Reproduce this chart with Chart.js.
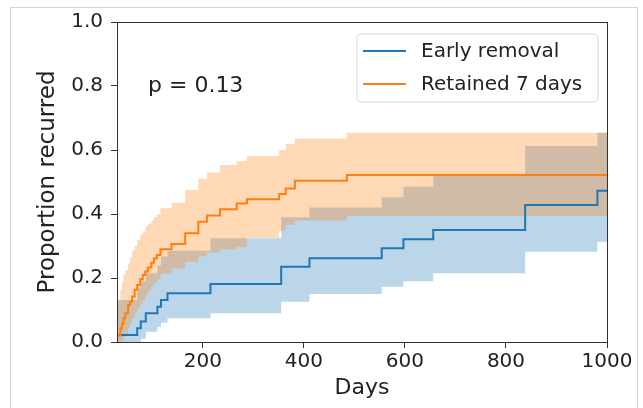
<!DOCTYPE html>
<html>
<head>
<meta charset="utf-8">
<script src="https://cdn.jsdelivr.net/npm/chart.js@4.4.1/dist/chart.umd.min.js"></script>
<style>
  html, body { margin: 0; padding: 0; background: #fff; }
  #wrap { position: relative; width: 643px; height: 408px; overflow: hidden; }
  #frame { position: absolute; left: 10px; top: 7px; right: 5px; bottom: -5px; border: 1px solid #d4d4d4; }
  canvas { position: absolute; left: 0; top: 0; }
</style>
</head>
<body>
<div id="wrap">
  <div id="frame"></div>
  <canvas id="kmChart" width="643" height="408"></canvas>
</div>
<script>
// tick labels
const xTicks = [200, 400, 600, 800, 1000];
const yTicks = [0, 0.2, 0.4, 0.6, 0.8, 1.0];

// Early removal: step times, cumulative proportion recurred and 95% band
const earlyDays  = [30, 70, 77, 87, 110, 117, 130, 215, 355, 411, 554, 597, 656, 838, 981, 1000];
const earlyProp  = [0.022, 0.043, 0.064, 0.09, 0.11, 0.131, 0.152, 0.181, 0.235, 0.262, 0.293, 0.321, 0.35, 0.428, 0.473, 0.473];
const earlyLower = [0, 0, 0.01, 0.032, 0.048, 0.06, 0.074, 0.09, 0.126, 0.15, 0.173, 0.19, 0.215, 0.282, 0.313, 0.313];
const earlyUpper = [0.131, 0.17, 0.19, 0.215, 0.24, 0.267, 0.285, 0.324, 0.39, 0.42, 0.452, 0.485, 0.52, 0.6125, 0.654, 0.654];

// Retained 7 days
const retainedDays  = [30, 36.6, 40, 43, 46.5, 52, 56, 60, 65, 70, 76, 81, 86, 91, 98, 103, 109, 116, 138, 165, 191, 208, 234, 267, 287, 351, 364, 382, 485, 1000];
const retainedProp  = [0.02, 0.043, 0.058, 0.074, 0.09, 0.116, 0.126, 0.142, 0.163, 0.178, 0.196, 0.209, 0.22, 0.233, 0.248, 0.261, 0.272, 0.29, 0.306, 0.34, 0.376, 0.395, 0.415, 0.433, 0.446, 0.4625, 0.48, 0.504, 0.522, 0.522];
const retainedLower = [0, 0, 0.005, 0.015, 0.025, 0.045, 0.06, 0.075, 0.09, 0.105, 0.12, 0.131, 0.145, 0.16, 0.175, 0.185, 0.195, 0.213, 0.23, 0.25, 0.268, 0.28, 0.29, 0.297, 0.325, 0.348, 0.366, 0.38, 0.394, 0.394];
const retainedUpper = [0.13, 0.165, 0.19, 0.21, 0.225, 0.245, 0.265, 0.285, 0.3, 0.318, 0.335, 0.345, 0.36, 0.37, 0.38, 0.39, 0.4, 0.418, 0.435, 0.475, 0.51, 0.53, 0.553, 0.566, 0.581, 0.6, 0.619, 0.636, 0.654, 0.654];

const pText = "p = 0.13";

const blue = "#1f77b4";
const orange = "#ff7f0e";
const font = "DejaVu Sans";

function pts(days, vals) {
    return days.map((d, i) => ({ x: d, y: vals[i] }));
}

function lineSet(label, days, vals, color) {
    return {
        label,
        data: pts(days, vals),
        borderColor: color,
        borderWidth: 2,
        stepped: true,
        pointRadius: 0,
        fill: false
    };
}

function bandSet(days, vals, color, fill) {
    return {
        label: "",
        data: pts(days, vals),
        borderWidth: 0,
        borderColor: "rgba(0,0,0,0)",
        backgroundColor: color,
        stepped: true,
        pointRadius: 0,
        fill
    };
}

// spines on all four sides
const boxPlugin = {
    id: "box",
    afterDatasetsDraw(chart) {
        const { ctx, chartArea: a } = chart;
        ctx.save();
        ctx.strokeStyle = "#333";
        ctx.lineWidth = 1;
        ctx.strokeRect(a.left + 0.5, a.top + 0.5, a.right - a.left, a.bottom - a.top);
        ctx.restore();
    }
};

// legend inside the axes and the p value note
const notePlugin = {
    id: "note",
    afterDraw(chart) {
        const ctx = chart.ctx;
        ctx.save();
        // legend box
        const bx = 357, by = 34, bw = 241, bh = 68, r = 4;
        ctx.beginPath();
        ctx.moveTo(bx + r, by);
        ctx.arcTo(bx + bw, by, bx + bw, by + bh, r);
        ctx.arcTo(bx + bw, by + bh, bx, by + bh, r);
        ctx.arcTo(bx, by + bh, bx, by, r);
        ctx.arcTo(bx, by, bx + bw, by, r);
        ctx.closePath();
        ctx.fillStyle = "rgba(255,255,255,0.8)";
        ctx.fill();
        ctx.strokeStyle = "#d6d6d6";
        ctx.lineWidth = 1;
        ctx.stroke();

        const items = [chart.data.datasets[1], chart.data.datasets[0]];
        ctx.font = "20px '" + font + "'";
        ctx.textBaseline = "middle";
        ctx.fillStyle = "#222";
        items.forEach((ds, i) => {
            const y = 51 + i * 33;
            ctx.strokeStyle = ds.borderColor;
            ctx.lineWidth = 2;
            ctx.beginPath();
            ctx.moveTo(363, y);
            ctx.lineTo(406, y);
            ctx.stroke();
            ctx.fillText(ds.label, 421, y + 1);
        });

        ctx.font = "22px '" + font + "'";
        ctx.textBaseline = "alphabetic";
        ctx.fillText(pText, 148, 92);
        ctx.restore();
    }
};

const ctx = document.getElementById("kmChart").getContext("2d");
new Chart(ctx, {
    type: "line",
    data: {
        datasets: [
            lineSet("Retained 7 days", retainedDays, retainedProp, orange),
            lineSet("Early removal", earlyDays, earlyProp, blue),
            bandSet(retainedDays, retainedUpper, "rgba(255,127,14,0.3)", "+1"),
            bandSet(retainedDays, retainedLower, "rgba(255,127,14,0.3)", false),
            bandSet(earlyDays, earlyUpper, "rgba(31,119,180,0.3)", "+1"),
            bandSet(earlyDays, earlyLower, "rgba(31,119,180,0.3)", false)
        ]
    },
    options: {
        responsive: false,
        animation: false,
        layout: { padding: { top: 22, right: 36, left: 0, bottom: 0 } },
        plugins: {
            legend: { display: false },
            tooltip: { enabled: false }
        },
        scales: {
            x: {
                type: "linear",
                min: 30,
                max: 1000,
                afterBuildTicks: scale => { scale.ticks = xTicks.map(v => ({ value: v })); },
                afterFit: scale => { scale.height = 66; },
                grid: { drawOnChartArea: false, drawTicks: true, tickLength: 6, tickColor: "#333" },
                border: { display: true, color: "#333", width: 1 },
                ticks: { color: "#222", font: { family: font, size: 20 }, padding: 2, maxRotation: 0, callback: v => String(v) },
                title: { display: true, text: "Days", color: "#222", font: { family: font, size: 22 }, padding: { top: 0, bottom: 7 } }
            },
            y: {
                min: 0,
                max: 1,
                afterBuildTicks: scale => { scale.ticks = yTicks.map(v => ({ value: v })); },
                afterFit: scale => { scale.width = 117; },
                grid: { drawOnChartArea: false, drawTicks: true, tickLength: 6, tickColor: "#333" },
                border: { display: true, color: "#333", width: 1 },
                ticks: { color: "#222", font: { family: font, size: 20 }, padding: 8, callback: v => v.toFixed(1) },
                title: { display: true, text: "Proportion recurred", color: "#222", font: { family: font, size: 23 }, padding: { top: 34, bottom: 0 } }
            }
        }
    },
    plugins: [boxPlugin, notePlugin]
});
</script>
</body>
</html>
